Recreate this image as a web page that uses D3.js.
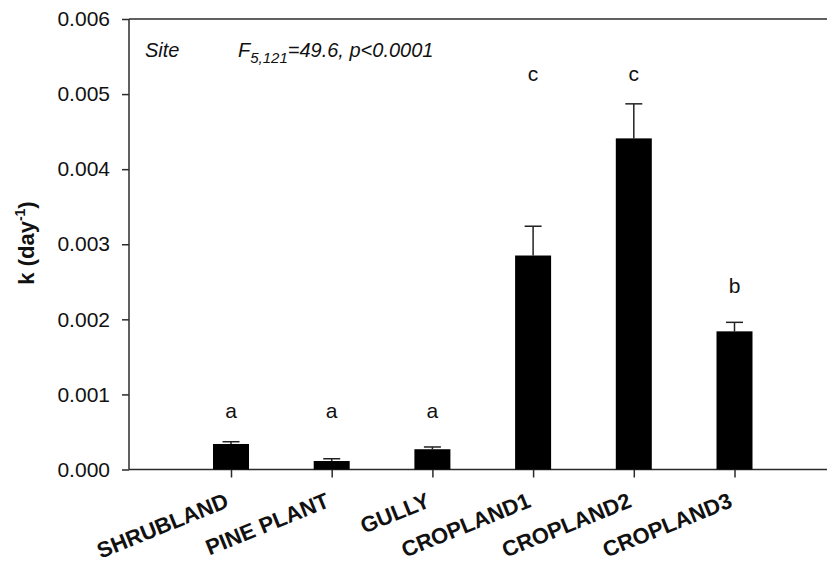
<!DOCTYPE html>
<html>
<head>
<meta charset="utf-8">
<script src="https://cdn.jsdelivr.net/npm/d3@7"></script>
<style>
  body { margin: 0; background: #fff; }
  svg { font-family: Arial, "Liberation Sans", sans-serif; }
</style>
</head>
<body>
<div id="chart"></div>
<script>
// data
const sites = ["SHRUBLAND", "PINE PLANT", "GULLY", "CROPLAND1", "CROPLAND2", "CROPLAND3"]
const kMean = [0.00034, 0.000113, 0.00027, 0.00285, 0.00441, 0.00184]
const kErr = [0.00003, 0.00003, 0.00003, 0.00039, 0.00046, 0.00012]
const groups = ["a", "a", "a", "c", "c", "b"]
const groupLevel = [0.00069, 0.00069, 0.00069, 0.00517, 0.00517, 0.00235]
const yTicks = [0, 0.001, 0.002, 0.003, 0.004, 0.005, 0.006]

const width = 827
const height = 570
const plotLeft = 129
const plotTop = 19
const plotBottom = 469.5
const barWidth = 36

const svg = d3.select("#chart")
  .append("svg")
  .attr("width", width)
  .attr("height", height)

const yScale = d3.scaleLinear()
  .domain([0, 0.006])
  .range([plotBottom, plotTop])

// bar centres sit on a point scale
const xScale = d3.scalePoint()
  .domain(sites)
  .range([231, 734.5])

const axisColor = "#2b2b2b"

// y axis
const yAxis = d3.axisLeft(yScale)
  .tickValues(yTicks)
  .tickFormat(d3.format(".3f"))
  .tickSize(7)
  .tickPadding(12)

const gy = svg.append("g")
  .attr("transform", "translate(" + plotLeft + ",0)")
  .call(yAxis)
gy.select(".domain").remove()
gy.append("line")
  .attr("x1", 0).attr("x2", 0)
  .attr("y1", plotTop).attr("y2", plotBottom)
  .attr("stroke", axisColor)
  .attr("stroke-width", 1.5)
gy.selectAll(".tick line").attr("stroke", axisColor).attr("stroke-width", 1.5)
gy.selectAll(".tick text")
  .attr("fill", "#111")
  .attr("font-size", 21)

// x axis
const xAxis = d3.axisBottom(xScale)
  .tickSize(8)
  .tickFormat("")

const gx = svg.append("g")
  .attr("transform", "translate(0," + plotBottom + ")")
  .call(xAxis)
gx.select(".domain").remove()
gx.append("line")
  .attr("x1", plotLeft).attr("x2", width)
  .attr("y1", 0).attr("y2", 0)
  .attr("stroke", axisColor)
  .attr("stroke-width", 1.5)
gx.selectAll(".tick line").attr("stroke", axisColor).attr("stroke-width", 1.5)

// top frame line
svg.append("line")
  .attr("x1", plotLeft).attr("x2", width)
  .attr("y1", plotTop).attr("y2", plotTop)
  .attr("stroke", axisColor)
  .attr("stroke-width", 1.5)

// rotated category labels
svg.selectAll(".xLabel")
  .data(sites)
  .enter()
  .append("text")
  .attr("class", "xLabel")
  .attr("transform", function(d) {
    return "translate(" + (xScale(d) - 1) + "," + (plotBottom + 37) + ")rotate(-22)"
  })
  .attr("text-anchor", "end")
  .attr("font-size", 22)
  .attr("font-weight", "bold")
  .attr("fill", "#111")
  .text(function(d) { return d })

// y label
const yLabel = svg.append("text")
  .attr("transform", "translate(34,243)rotate(-90)")
  .attr("text-anchor", "middle")
  .attr("font-size", 22)
  .attr("font-weight", "bold")
  .attr("fill", "#111")
yLabel.append("tspan").text("k (day")
yLabel.append("tspan").attr("font-size", 14).attr("dy", -9).text("-1")
yLabel.append("tspan").attr("dy", 9).text(")")

// error bars
const errs = svg.append("g")
sites.forEach(function(s, i) {
  const cx = xScale(s)
  const y0 = yScale(kMean[i])
  const y1 = yScale(kMean[i] + kErr[i])
  errs.append("line")
    .attr("x1", cx).attr("x2", cx)
    .attr("y1", y0).attr("y2", y1)
    .attr("stroke", "#222").attr("stroke-width", 1.5)
  errs.append("line")
    .attr("x1", cx - 8.5).attr("x2", cx + 8.5)
    .attr("y1", y1).attr("y2", y1)
    .attr("stroke", "#222").attr("stroke-width", 1.5)
})

// bars
svg.selectAll(".bar")
  .data(sites)
  .enter()
  .append("rect")
  .attr("class", "bar")
  .attr("x", function(d) { return xScale(d) - barWidth / 2 })
  .attr("width", barWidth)
  .attr("y", function(d, i) { return yScale(kMean[i]) })
  .attr("height", function(d, i) { return plotBottom - yScale(kMean[i]) })
  .attr("fill", "#000")

// group letters
svg.selectAll(".grp")
  .data(sites)
  .enter()
  .append("text")
  .attr("class", "grp")
  .attr("x", function(d) { return xScale(d) })
  .attr("y", function(d, i) { return yScale(groupLevel[i]) })
  .attr("text-anchor", "middle")
  .attr("font-size", 21)
  .attr("fill", "#111")
  .text(function(d, i) { return groups[i] })

// stats annotation
svg.append("text")
  .attr("x", 145).attr("y", 57)
  .attr("font-size", 20)
  .attr("font-style", "italic")
  .attr("fill", "#111")
  .text("Site")

const stat = svg.append("text")
  .attr("x", 238).attr("y", 57)
  .attr("font-size", 20)
  .attr("font-style", "italic")
  .attr("fill", "#111")
stat.append("tspan").text("F")
stat.append("tspan").attr("font-size", 15).attr("dy", 6).text("5,121")
stat.append("tspan").attr("dy", -6).text("=49.6, p<0.0001")
</script>
</body>
</html>
